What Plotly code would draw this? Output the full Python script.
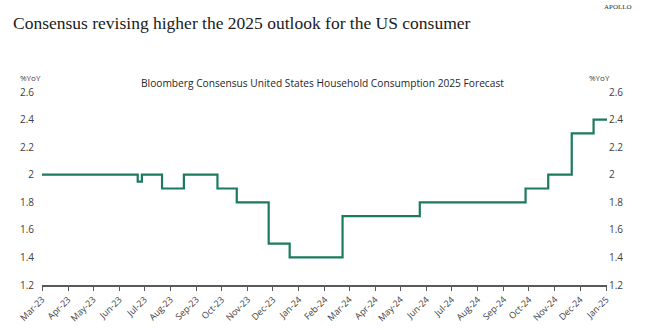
import plotly.graph_objects as go

# Bloomberg consensus for 2025 US household consumption growth (%YoY), step changes
revision_dates = [
    "2023-03-01", "2023-06-23", "2023-06-28", "2023-07-22", "2023-08-17",
    "2023-09-26", "2023-10-19", "2023-11-26", "2023-12-21", "2024-02-22",
    "2024-05-24", "2024-09-27", "2024-10-24", "2024-11-21", "2024-12-17",
    "2025-01-02",
]
forecast_values = [
    2.0, 1.95, 2.0, 1.9, 2.0,
    1.9, 1.8, 1.5, 1.4, 1.7,
    1.8, 1.9, 2.0, 2.3, 2.4,
    2.4,
]
y_ticks = [1.2, 1.4, 1.6, 1.8, 2.0, 2.2, 2.4, 2.6]
y_tick_labels = ["1.2", "1.4", "1.6", "1.8", "2", "2.2", "2.4", "2.6"]

LINE = "#1b7a5f"
SANS = "Open Sans, Noto Sans, sans-serif"
SERIF = "Liberation Serif, DejaVu Serif, serif"

# plot-area geometry in pixels, used to place the free text in paper units
L, R, T, B = 42, 38, 92, 45
PW, PH = 645 - L - R, 330 - T - B


def px(x):
    return (x - L) / PW


def py(y):
    return (330 - B - y) / PH


fig = go.Figure()
fig.add_trace(go.Scatter(
    x=revision_dates, y=forecast_values, mode="lines",
    line=dict(color=LINE, width=2.2, shape="hv"),
    hoverinfo="x+y", showlegend=False,
))
# invisible copy on the secondary axis so the right-hand scale renders
fig.add_trace(go.Scatter(
    x=revision_dates, y=forecast_values, mode="lines", yaxis="y2",
    line=dict(color="rgba(0,0,0,0)", width=0, shape="hv"),
    hoverinfo="skip", showlegend=False,
))

axis_font = dict(family=SANS, size=10, color="#404040")

fig.update_layout(
    width=645, height=330,
    margin=dict(l=L, r=R, t=T, b=B),
    paper_bgcolor="white", plot_bgcolor="white",
    xaxis=dict(
        type="date",
        range=["2023-03-01", "2025-01-02"],
        tickmode="linear", tick0="2023-03-01", dtick="M1",
        tickformat="%b-%y", tickangle=-45,
        tickfont=dict(family=SANS, size=9, color="#404040"),
        showgrid=False, zeroline=False, automargin=False,
        showline=True, linecolor="#595959", linewidth=1.5,
        ticks="outside", ticklen=4, tickcolor="#595959", tickwidth=1,
    ),
    yaxis=dict(
        range=[1.2, 2.6], tickvals=y_ticks, ticktext=y_tick_labels,
        tickfont=axis_font, showgrid=False, zeroline=False, automargin=False,
        showline=False, ticks="", ticklabelstandoff=7,
    ),
    yaxis2=dict(
        range=[1.2, 2.6], tickvals=y_ticks, ticktext=y_tick_labels,
        tickfont=axis_font, overlaying="y", side="right", automargin=False,
        showgrid=False, zeroline=False, showline=False, ticks="",
        ticklabelstandoff=1,
    ),
    annotations=[
        dict(text="Consensus revising higher the 2025 outlook for the US consumer",
             xref="paper", yref="paper", x=px(11), y=py(23),
             xanchor="left", yanchor="middle", showarrow=False,
             font=dict(family=SERIF, size=17.5, color="#1a1a1a")),
        dict(text="APOLLO", xref="paper", yref="paper",
             x=px(634), y=py(7), xanchor="right", yanchor="middle",
             showarrow=False,
             font=dict(family=SERIF, size=7, color="#333333")),
        dict(text="Bloomberg Consensus United States Household Consumption 2025 Forecast",
             xref="paper", yref="paper", x=px(322), y=py(83),
             xanchor="center", yanchor="middle", showarrow=False,
             font=dict(family=SANS, size=10.2, color="#262626")),
        dict(text="%YoY", xref="paper", yref="paper", x=px(18), y=py(77.5),
             xanchor="left", yanchor="middle", showarrow=False,
             font=dict(family=SANS, size=8, color="#404040")),
        dict(text="%YoY", xref="paper", yref="paper", x=px(587), y=py(77.5),
             xanchor="left", yanchor="middle", showarrow=False,
             font=dict(family=SANS, size=8, color="#404040")),
    ],
)

fig.write_html("out.html")
